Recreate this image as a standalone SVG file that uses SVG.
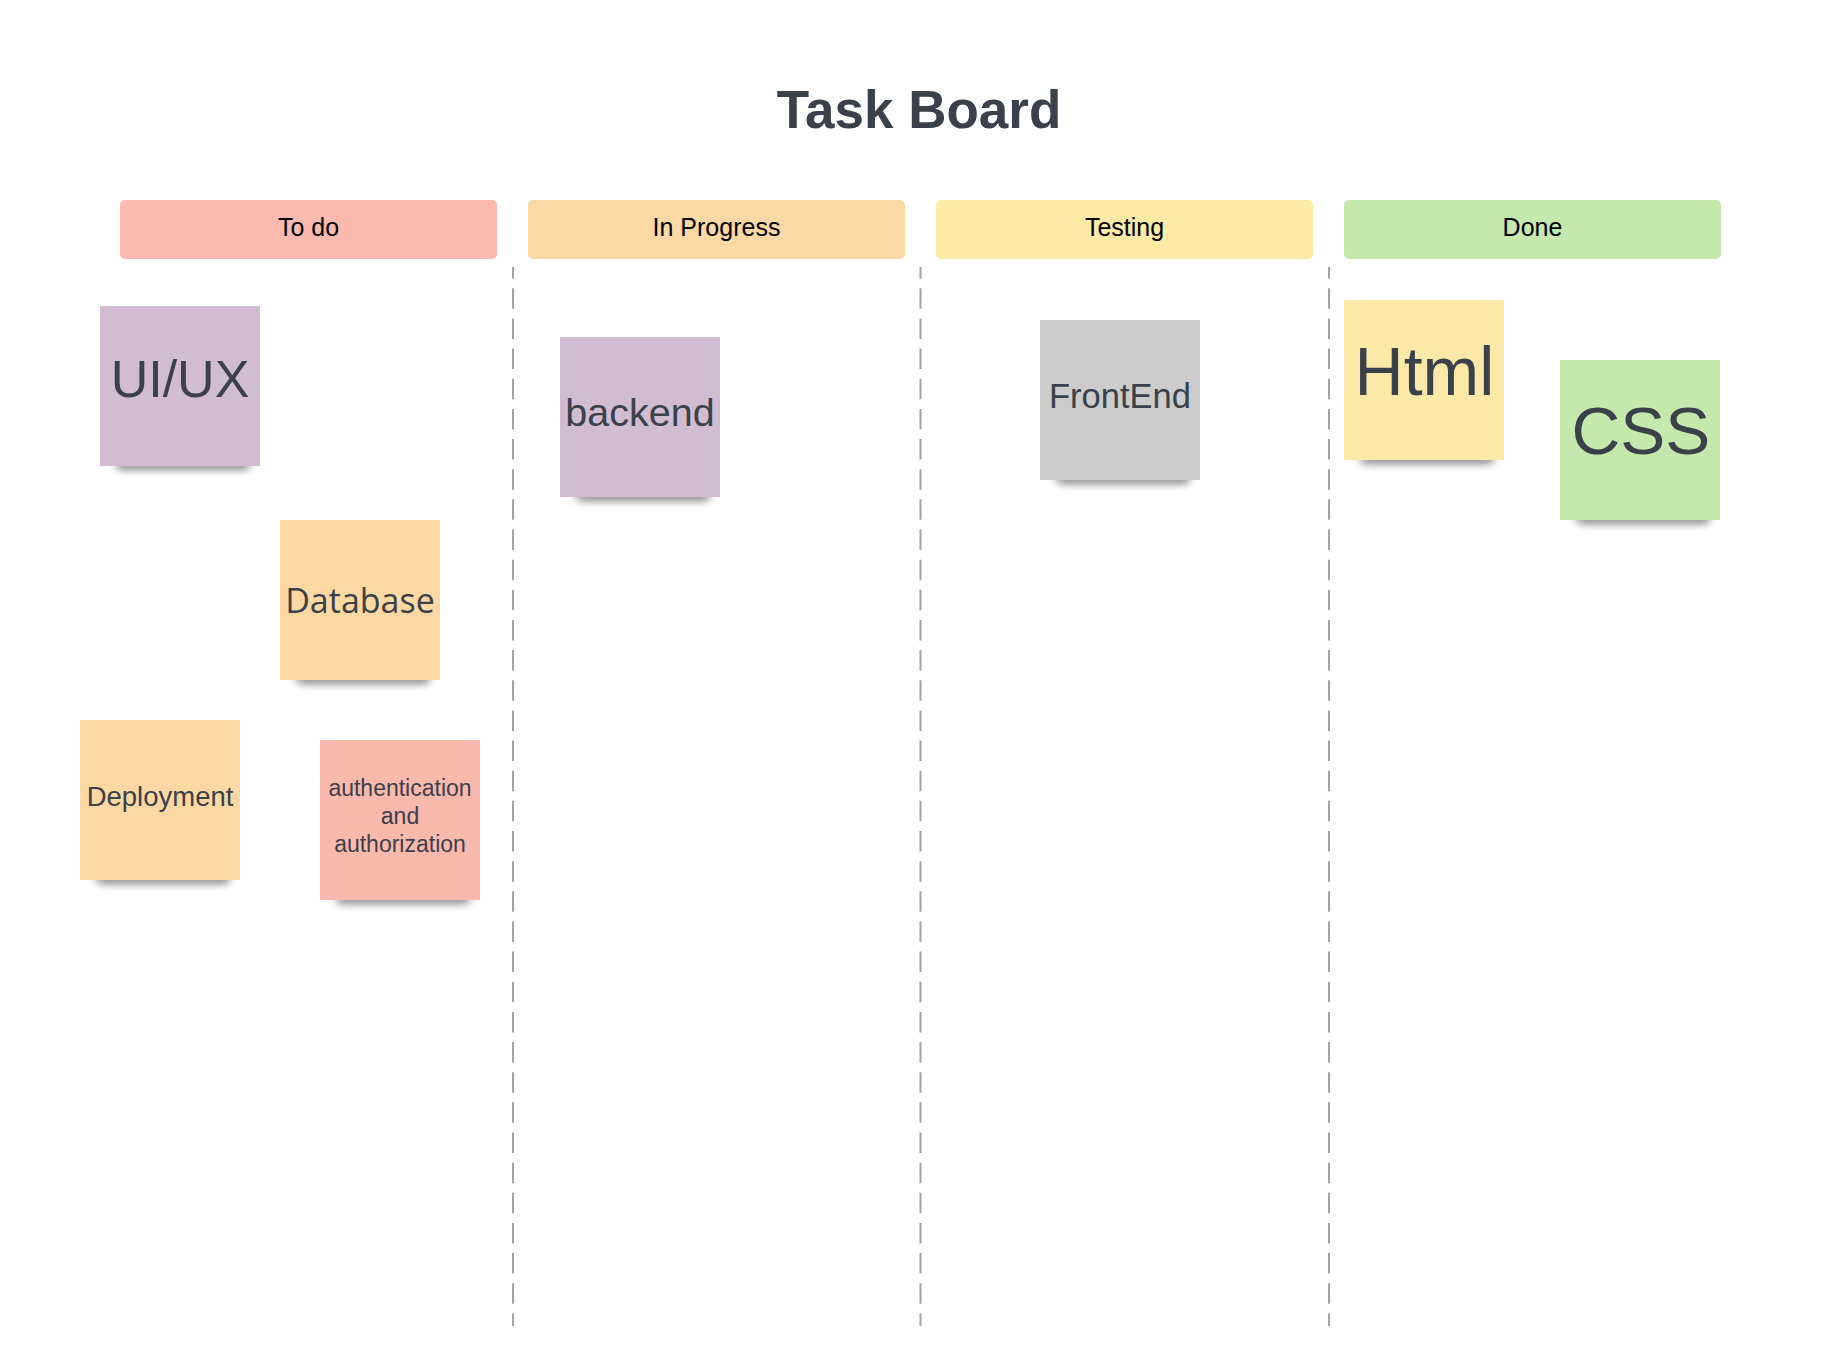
<svg xmlns="http://www.w3.org/2000/svg" width="1835" height="1366" viewBox="0 0 1835 1366">
<defs>
<style>
.hdr{font-family:"Liberation Sans",Arial,sans-serif;font-size:25px;fill:#000;text-anchor:middle}
.nt{font-family:"Liberation Sans",Arial,sans-serif;fill:#3a414a;text-anchor:middle}
.div{stroke:#a3a3a3;stroke-width:2;stroke-dasharray:20.5 9.65;stroke-dashoffset:8.85;fill:none}
.sh{fill:#3a3a3a;opacity:0.5;filter:url(#blur)}
</style>
<filter id="blur" x="-20%" y="-150%" width="140%" height="400%"><feGaussianBlur stdDeviation="4.5 3.5"/></filter>
</defs>
<rect width="1835" height="1366" fill="#ffffff"/>
<text id="title" x="919" y="127.5" font-family="Liberation Sans,Arial,sans-serif" font-weight="bold" font-size="53" fill="#3a414a" text-anchor="middle">Task Board</text>

<g id="header-todo"><rect x="120" y="200" width="377" height="59" rx="5" fill="#fcb9b0"/><text class="hdr" x="308.5" y="236">To do</text></g>
<g id="header-inprogress"><rect x="528" y="200" width="377" height="59" rx="5" fill="#fcd9a4"/><text class="hdr" x="716.5" y="236">In Progress</text></g>
<g id="header-testing"><rect x="936" y="200" width="377" height="59" rx="5" fill="#fdeaa7"/><text class="hdr" x="1124.5" y="236">Testing</text></g>
<g id="header-done"><rect x="1344" y="200" width="377" height="59" rx="5" fill="#c5e8ad"/><text class="hdr" x="1532.5" y="236">Done</text></g>

<g id="dividers">
<line class="div" x1="513" y1="267" x2="513" y2="1326"/>
<line class="div" x1="920.5" y1="267" x2="920.5" y2="1326"/>
<line class="div" x1="1329" y1="267" x2="1329" y2="1326"/>
</g>

<g id="note-uiux"><rect class="sh" x="116" y="458" width="134" height="13" rx="6"/><rect x="100" y="306" width="160" height="160" fill="#d1bcd2"/><text class="nt" x="180" y="396.5" font-size="52">UI/UX</text></g>
<g id="note-database"><rect class="sh" x="296" y="672" width="134" height="13" rx="6"/><rect x="280" y="520" width="160" height="160" fill="#fdd8a3"/><text class="nt" x="360" y="613" font-size="34" style="font-family:'Open Sans',sans-serif">Database</text></g>
<g id="note-deployment"><rect class="sh" x="96" y="872" width="134" height="13" rx="6"/><rect x="80" y="720" width="160" height="160" fill="#fdd8a3"/><text class="nt" x="160" y="806" font-size="27.5">Deployment</text></g>
<g id="note-auth"><rect class="sh" x="336" y="892" width="134" height="13" rx="6"/><rect x="320" y="740" width="160" height="160" fill="#fbb8ad"/><text class="nt" x="400" y="796" font-size="23"><tspan x="400">authentication</tspan><tspan x="400" y="824.3">and</tspan><tspan x="400" y="852.3">authorization</tspan></text></g>
<g id="note-backend"><rect class="sh" x="576" y="489" width="134" height="13" rx="6"/><rect x="560" y="337" width="160" height="160" fill="#d1bcd2"/><text class="nt" x="640" y="426" font-size="39.5">backend</text></g>
<g id="note-frontend"><rect class="sh" x="1056" y="472" width="134" height="13" rx="6"/><rect x="1040" y="320" width="160" height="160" fill="#cccccc"/><text class="nt" x="1120" y="407.5" font-size="34.5">FrontEnd</text></g>
<g id="note-html"><rect class="sh" x="1360" y="452" width="134" height="13" rx="6"/><rect x="1344" y="300" width="160" height="160" fill="#fde9a7"/><text class="nt" x="1424.5" y="395" font-size="68">Html</text></g>
<g id="note-css"><rect class="sh" x="1576" y="512" width="134" height="13" rx="6"/><rect x="1560" y="360" width="160" height="160" fill="#c5e8ad"/><text class="nt" x="1641" y="453.5" font-size="67.5">CSS</text></g>
</svg>
